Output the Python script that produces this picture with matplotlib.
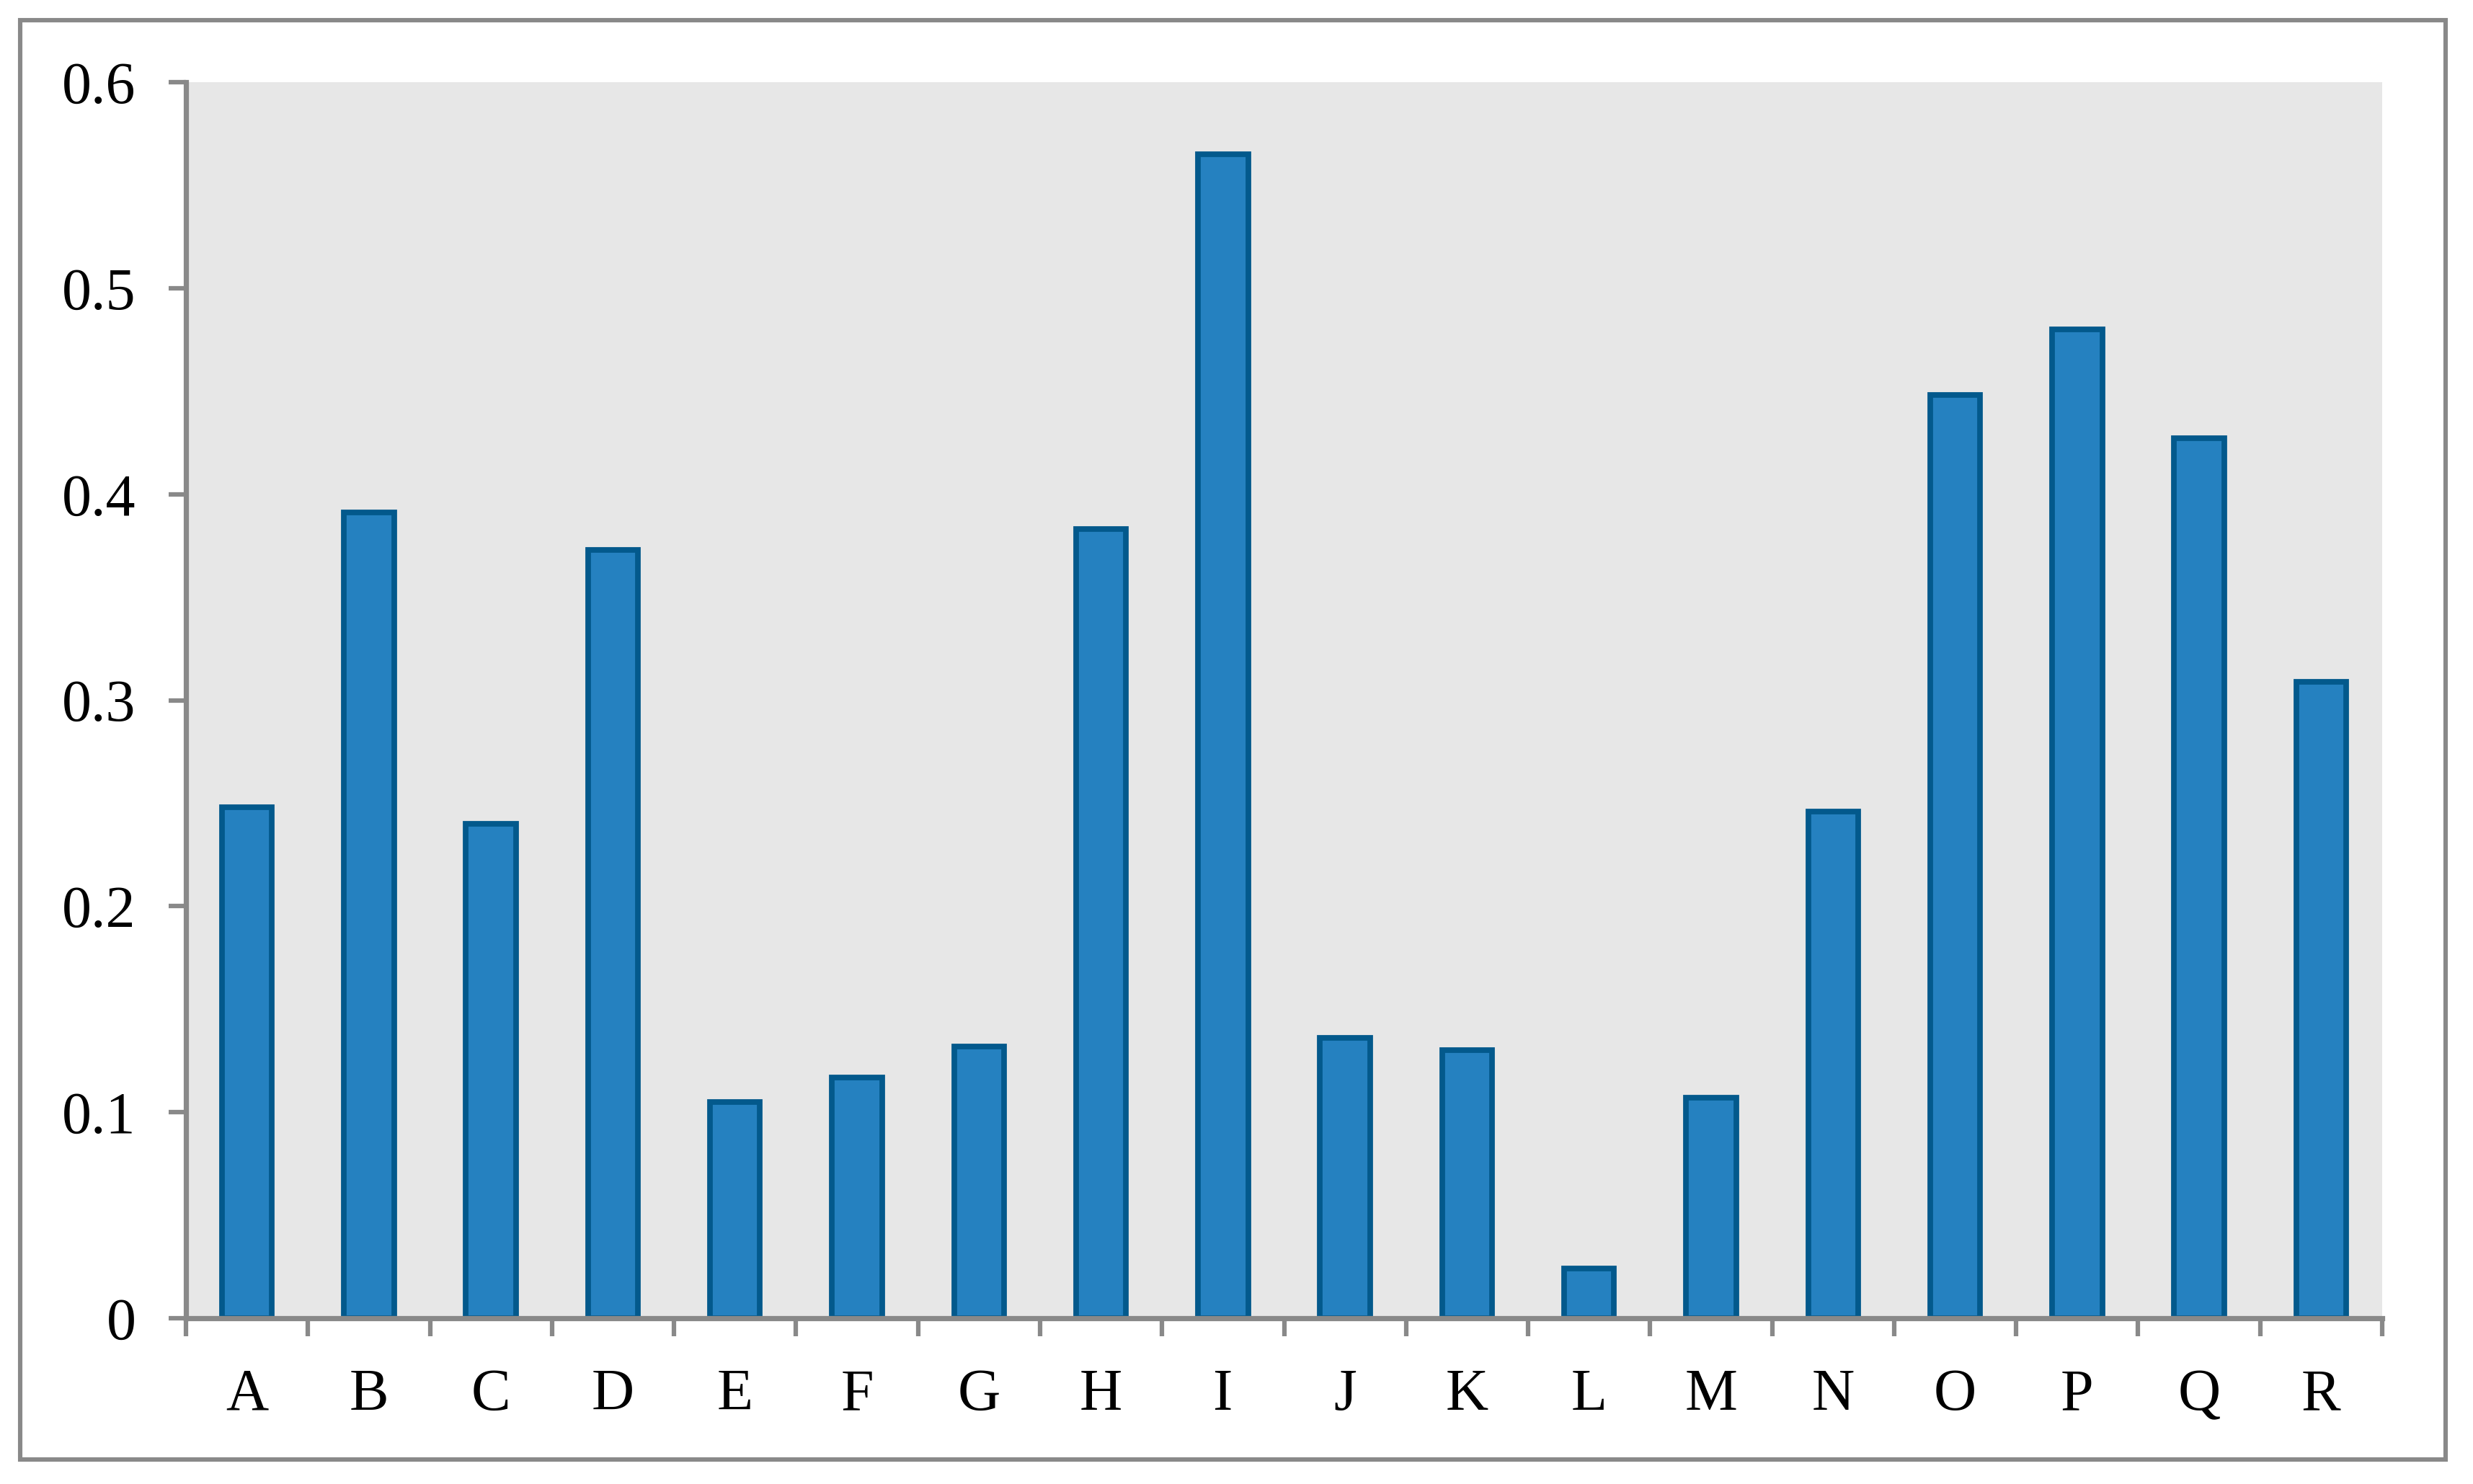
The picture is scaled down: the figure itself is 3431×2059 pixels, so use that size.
import matplotlib
matplotlib.use("Agg")
import matplotlib.pyplot as plt
from matplotlib.patches import Rectangle
import numpy as np

categories = ["A", "B", "C", "D", "E", "F", "G", "H", "I", "J", "K", "L", "M", "N", "O", "P", "Q", "R"]
values = [0.248, 0.391, 0.240, 0.373, 0.105, 0.117, 0.132, 0.383, 0.565, 0.136, 0.130, 0.024, 0.107, 0.246, 0.448, 0.480, 0.427, 0.309]
yticks = [0, 0.1, 0.2, 0.3, 0.4, 0.5, 0.6]
ytick_labels = ["0", "0.1", "0.2", "0.3", "0.4", "0.5", "0.6"]

W, H = 3431, 2059
DPI = 100
fig = plt.figure(figsize=(W / DPI, H / DPI), dpi=DPI)
fig.patch.set_facecolor("white")

gray = "#898989"
font = ["Liberation Serif", "DejaVu Serif"]

# outer frame
fx0, fy0, fx1, fy1 = 28, 28, 3393, 2025
fig.patches.append(Rectangle((fx0 / W, 1 - fy1 / H), (fx1 - fx0) / W, (fy1 - fy0) / H,
                             transform=fig.transFigure, fill=False, edgecolor=gray,
                             linewidth=4.4, zorder=0))

ax_left, ax_right, ax_top, ax_bottom = 258, 3305, 114, 1829
ax = fig.add_axes([ax_left / W, 1 - ax_bottom / H, (ax_right - ax_left) / W, (ax_bottom - ax_top) / H])
ax.set_facecolor("#E7E7E7")

x = np.arange(len(categories))
ax.bar(x, values, width=0.41, color="#2581C0", edgecolor="#03598C", linewidth=5.6, zorder=3)

ax.set_xlim(-0.5, len(categories) - 0.5)
ax.set_ylim(0, 0.6)

for s in ["top", "right"]:
    ax.spines[s].set_visible(False)
for s in ["left", "bottom"]:
    ax.spines[s].set_color(gray)
    ax.spines[s].set_linewidth(5.2)
    ax.spines[s].set_zorder(4)

ax.set_yticks(yticks)
ax.set_yticklabels(ytick_labels, fontfamily=font, fontsize=59)
ax.tick_params(axis="y", direction="out", length=17, width=4.5, color=gray, pad=33)

ax.set_xticks(x)
ax.set_xticklabels(categories, fontfamily=font, fontsize=59)
ax.tick_params(axis="x", which="major", length=0, pad=50)
ax.set_xticks(np.arange(-0.5, len(categories), 1.0), minor=True)
ax.tick_params(axis="x", which="minor", direction="out", length=18, width=4.5, color=gray)

fig.savefig("out.png", dpi=DPI)
